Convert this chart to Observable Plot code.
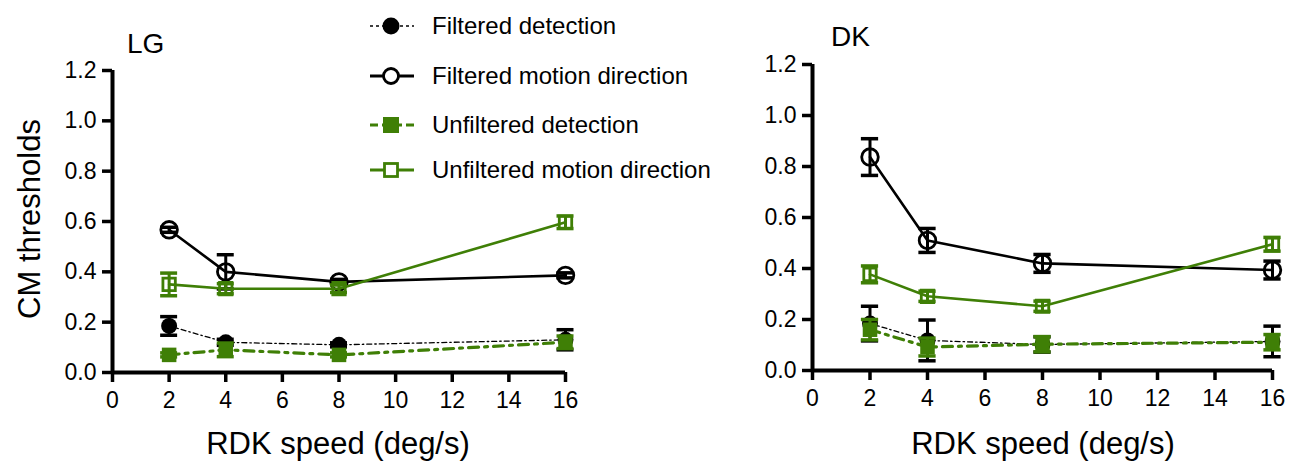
<!DOCTYPE html>
<html>
<head>
<meta charset="utf-8">
<script src="https://cdn.jsdelivr.net/npm/d3@7"></script>
<script src="https://cdn.jsdelivr.net/npm/@observablehq/plot@0.6"></script>
<style>
  body { margin: 0; background: #fff; font-family: "Liberation Sans", Arial, sans-serif; }
  #wrap { position: relative; width: 1289px; height: 462px; overflow: hidden; }
  .abs { position: absolute; }
  .lbl { position: absolute; color: #000; white-space: nowrap; line-height: 1.15; }
  svg text { font-family: "Liberation Sans", Arial, sans-serif; }
  g[aria-label$="axis tick"] path { stroke-width: 3.5px !important; }
</style>
</head>
<body>
<div id="wrap"></div>
<script>
// ---------- data ----------
const speeds = [2, 4, 8, 16];
const xTicks = [0, 2, 4, 6, 8, 10, 12, 14, 16];
const yTicks = [0, 0.2, 0.4, 0.6, 0.8, 1.0, 1.2];
const seriesNames = ["Filtered detection", "Filtered motion direction", "Unfiltered detection", "Unfiltered motion direction"];
const panelTitles = ["LG", "DK"];

// LG
const lgFiltDet = [0.185, 0.12, 0.11, 0.13];
const lgFiltDetErr = [0.037, 0.012, 0.008, 0.04];
const lgFiltMot = [0.567, 0.40, 0.36, 0.386];
const lgFiltMotErr = [0.01, 0.068, 0.01, 0.01];
const lgUnfDet = [0.07, 0.09, 0.07, 0.12];
const lgUnfDetErr = [0.008, 0.027, 0.008, 0.025];
const lgUnfMot = [0.35, 0.333, 0.333, 0.597];
const lgUnfMotErr = [0.045, 0.02, 0.015, 0.025];

// DK
const dkFiltDet = [0.184, 0.118, 0.102, 0.114];
const dkFiltDetErr = [0.068, 0.08, 0.03, 0.06];
const dkFiltMot = [0.837, 0.51, 0.42, 0.394];
const dkFiltMotErr = [0.072, 0.047, 0.035, 0.035];
const dkUnfDet = [0.16, 0.092, 0.103, 0.111];
const dkUnfDetErr = [0.04, 0.035, 0.03, 0.03];
const dkUnfMot = [0.377, 0.291, 0.252, 0.495];
const dkUnfMotErr = [0.033, 0.02, 0.02, 0.027];

const GREEN = "#3f7f06";

const styles = {
  "Filtered detection": {color: "#000", width: 1.3, dash: "5,3,1.5,3", symbol: "circle", fill: "#000", r: 8},
  "Filtered motion direction": {color: "#000", width: 2.6, dash: null, symbol: "circle", fill: "none", r: 8.3},
  "Unfiltered detection": {color: GREEN, width: 3.2, dash: "10,6,3,6", symbol: "square", fill: GREEN, r: 8.2},
  "Unfiltered motion direction": {color: GREEN, width: 2.6, dash: null, symbol: "square", fill: "none", r: 7.0}
};

function rows(name, vals, errs) {
  return speeds.map((x, i) => ({series: name, x, v: vals[i], e: errs[i]}));
}

function seriesMarks(data) {
  const s = styles[data[0].series];
  return [
    Plot.line(data, {x: "x", y: "v", stroke: s.color, strokeWidth: s.width, strokeDasharray: s.dash}),
    Plot.ruleX(data, {x: "x", y1: d => d.v - d.e, y2: d => d.v + d.e, stroke: s.color, strokeWidth: 3}),
    Plot.ruleY(data, {y: d => d.v + d.e, x1: d => d.x - 0.3, x2: d => d.x + 0.3, stroke: s.color, strokeWidth: 3.5}),
    Plot.ruleY(data, {y: d => d.v - d.e, x1: d => d.x - 0.3, x2: d => d.x + 0.3, stroke: s.color, strokeWidth: 3.5}),
    Plot.dot(data, {x: "x", y: "v", symbol: s.symbol, r: s.r, fill: s.fill, stroke: s.color, strokeWidth: s.fill === "none" ? 2.8 : 0})
  ];
}

function panel(series, opts) {
  return Plot.plot({
    width: opts.width, height: 462,
    marginLeft: opts.ml, marginRight: opts.mr, marginTop: opts.mt, marginBottom: opts.mb,
    style: {fontFamily: "Liberation Sans, Arial, sans-serif", background: "transparent", overflow: "visible"},
    x: {domain: [0, 16]},
    y: {domain: [0, 1.2]},
    marks: [
      Plot.axisX({ticks: xTicks, tickSize: 10, tickPadding: 9, fontSize: 23, strokeWidth: 3.5, label: null, tickFormat: d => String(d)}),
      Plot.axisY({ticks: yTicks, tickSize: 10, tickPadding: 6, fontSize: 23, strokeWidth: 3.5, label: null, tickFormat: d3.format(".1f")}),
      Plot.ruleY([0], {x1: 0, x2: 16, strokeWidth: 4}),
      Plot.ruleX([0], {y1: 0, y2: 1.2, strokeWidth: 4}),
      ...series.flatMap(seriesMarks)
    ]
  });
}

const wrap = document.getElementById("wrap");

const lgSeries = [
  rows(seriesNames[0], lgFiltDet, lgFiltDetErr),
  rows(seriesNames[1], lgFiltMot, lgFiltMotErr),
  rows(seriesNames[2], lgUnfDet, lgUnfDetErr),
  rows(seriesNames[3], lgUnfMot, lgUnfMotErr)
];
const dkSeries = [
  rows(seriesNames[0], dkFiltDet, dkFiltDetErr),
  rows(seriesNames[1], dkFiltMot, dkFiltMotErr),
  rows(seriesNames[2], dkUnfDet, dkUnfDetErr),
  rows(seriesNames[3], dkUnfMot, dkUnfMotErr)
];

const p1 = panel(lgSeries, {width: 600, ml: 112, mr: 35, mt: 70, mb: 90});
p1.classList.add("abs"); p1.style.left = "0px"; p1.style.top = "0px";
wrap.appendChild(p1);

const p2 = panel(dkSeries, {width: 589, ml: 112, mr: 17, mt: 64, mb: 92});
p2.classList.add("abs"); p2.style.left = "700px"; p2.style.top = "0px";
wrap.appendChild(p2);

function addLabel(text, css) {
  const d = document.createElement("div");
  d.className = "lbl";
  d.textContent = text;
  Object.assign(d.style, css);
  wrap.appendChild(d);
  return d;
}

addLabel(panelTitles[0], {left: "127px", top: "28px", fontSize: "28px"});
addLabel(panelTitles[1], {left: "831px", top: "21px", fontSize: "28px"});
addLabel("RDK speed (deg/s)", {left: "338px", top: "426px", fontSize: "31px", transform: "translateX(-50%)"});
addLabel("RDK speed (deg/s)", {left: "1043px", top: "426px", fontSize: "31px", transform: "translateX(-50%)"});
addLabel("CM thresholds", {left: "30px", top: "219px", fontSize: "31px", transform: "translate(-50%,-50%) rotate(-90deg)"});

// legend
const legendY = [26, 76, 125, 170];
seriesNames.forEach((name, i) => {
  const s = styles[name];
  const row = document.createElement("div");
  row.className = "abs";
  row.style.left = "368px";
  row.style.top = (legendY[i] - 15) + "px";
  row.style.height = "30px";
  row.style.display = "flex";
  row.style.alignItems = "center";
  const sym = d3.create("svg").attr("width", 48).attr("height", 30);
  sym.append("line").attr("x1", 2).attr("x2", 46).attr("y1", 15).attr("y2", 15)
    .attr("stroke", s.color).attr("stroke-width", i === 0 ? 1.3 : 3)
    .attr("stroke-dasharray", i === 0 ? "3,3" : (i === 2 ? "8,4,20,4" : null));
  if (s.symbol === "circle") {
    sym.append("circle").attr("cx", 23).attr("cy", 15).attr("r", s.fill === "none" ? 7.5 : 8.5)
      .attr("fill", s.fill === "none" ? "white" : s.fill).attr("stroke", s.color).attr("stroke-width", s.fill === "none" ? 2.8 : 0);
  } else {
    const side = s.fill === "none" ? 13 : 16;
    sym.append("rect").attr("x", 23 - side / 2).attr("y", 15 - side / 2).attr("width", side).attr("height", side)
      .attr("fill", s.fill === "none" ? "white" : s.fill).attr("stroke", s.color).attr("stroke-width", s.fill === "none" ? 2.8 : 0);
  }
  row.appendChild(sym.node());
  const t = document.createElement("span");
  t.textContent = name;
  t.style.fontSize = "24px";
  t.style.marginLeft = "16px";
  row.appendChild(t);
  wrap.appendChild(row);
});
</script>
</body>
</html>
